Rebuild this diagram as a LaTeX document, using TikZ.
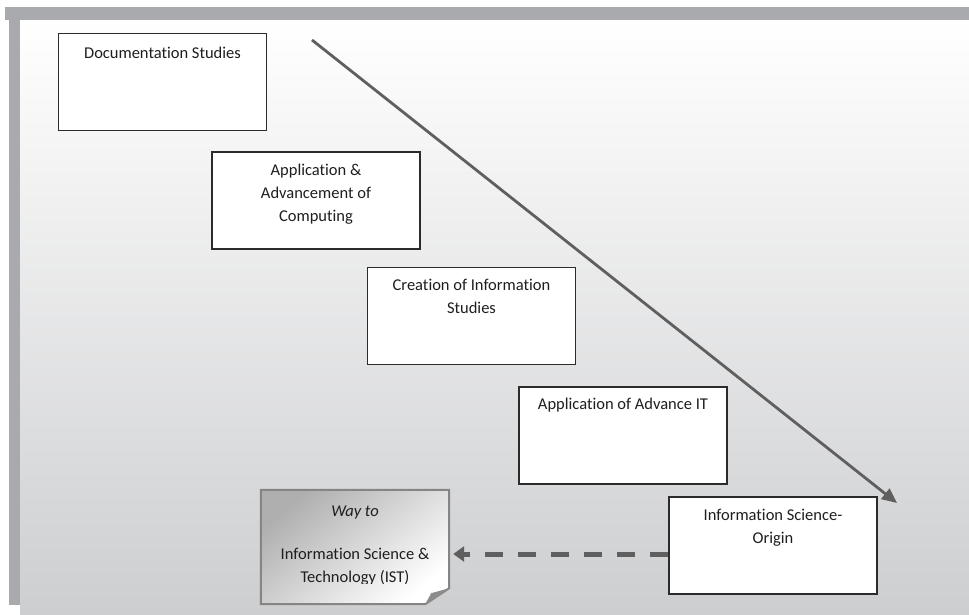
\documentclass[tikz,border=0pt]{standalone}
\usepackage{fontspec}
\setmainfont{Carlito}[Ligatures=NoCommon]
\usetikzlibrary{arrows.meta,calc}
\definecolor{barg}{HTML}{A9AAAE}
\definecolor{bgbot}{HTML}{CDCED0}
\definecolor{bgmid}{HTML}{E8E9EA}
\definecolor{arrg}{HTML}{5F5F5F}
\definecolor{boxbd}{HTML}{2B2B2B}
\definecolor{notebd}{HTML}{858585}
\definecolor{notegray}{HTML}{AFAFAF}
\definecolor{foldg}{HTML}{8C8C8C}
\definecolor{txt}{HTML}{1E1E1E}
\begin{document}
\begin{tikzpicture}[x=1pt,y=-1pt,
  stagebox/.style={draw=boxbd, line width=1.4pt, fill=white, minimum width=208pt, minimum height=97pt, inner sep=0pt},
  lbl/.style={font=\fontsize{16.5}{23}\selectfont, text=txt, align=center, inner sep=0pt, anchor=north},
  mainarrow/.style={draw=arrg, line width=2.8pt, -{Triangle[length=15pt,width=13pt]}},
  dasharrow/.style={draw=arrg, line width=5pt, dash pattern=on 18pt off 15pt, -{Triangle[length=11pt,width=15pt]}, shorten >=4pt}]
\useasboundingbox (0,0) rectangle (969,614);
\fill[white] (0,0) rectangle (969,614);
% panel
\shade[top color=white, middle color=bgmid, bottom color=bgbot] (20,20) rectangle (969,614);
\fill[barg] (5,7) rectangle (969,20);
\fill[barg] (9,7) rectangle (20,605);
% boxes
\node[stagebox] (b1) at (162.5,82) {};
\node[stagebox] (b2) at (316,200.5) {};
\node[stagebox] (b3) at (471.5,316) {};
\node[stagebox] (b4) at (623,435.5) {};
\node[stagebox] (b5) at (773,545.5) {};
\node[lbl] (t1) at ($(b1.north)+(0,14)$) {Documentation Studies};
\node[lbl] (t2) at ($(b2.north)+(0,13)$) {Application \&\\Advancement of\\Computing};
\node[lbl] (t3) at ($(b3.north)+(0,12)$) {Creation of Information\\Studies};
\node[lbl] (t4) at ($(b4.north)+(0,12)$) {Application of Advance IT};
\node[lbl] (t5) at ($(b5.north)+(0,13)$) {Information Science-\\Origin};
% note
\node[minimum width=188pt, minimum height=114pt, inner sep=0pt] (note) at (355,547) {};
\shade[draw=notebd, line width=2pt, top color=notegray, middle color=white!93!notegray, bottom color=white, shading angle=40]
  (note.north west) -- (note.north east) -- ($(note.south east)+(0,-16)$) -- ($(note.south east)+(-24,0)$) -- (note.south west) -- cycle;
\fill[foldg] ($(note.south east)+(-24,0)$) -- ($(note.south east)+(0,-16)$) -- ($(note.south east)+(-18,-11)$) -- cycle;
\begin{scope}
\clip (261,490) rectangle (449,583.5);
\node[lbl] (nw) at ($(note.north)+(0,16)$) {\itshape Way to};
\node[lbl] (nt) at ($(note.north)+(0,58)$) {Information Science \&\\Technology (IST)};
\end{scope}
% arrows
\coordinate (s) at (312,40);
\coordinate (e) at (897,503);
\draw[mainarrow] (s) -- (e);
\coordinate (d1) at ($(b5.west)+(0,8.5)$);
\draw[dasharrow] (d1) -- (note.east |- d1);
\end{tikzpicture}
\end{document}
